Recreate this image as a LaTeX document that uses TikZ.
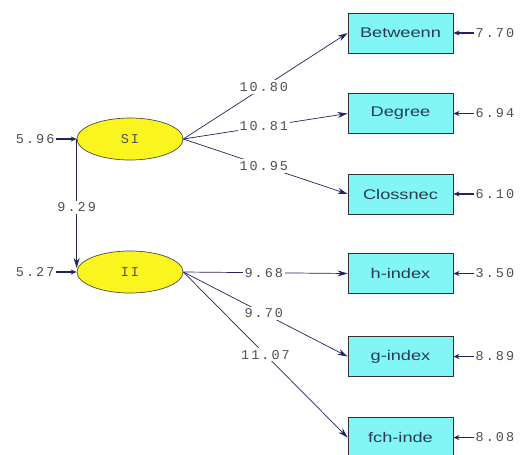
\documentclass[tikz,border=0pt]{standalone}
\usepackage{fontspec}
\setmainfont{Liberation Sans}
\newfontfamily\numfont{Liberation Mono}[LetterSpace=15]
\newfontfamily\boxfont{Liberation Sans}[FakeStretch=1.3]
\usetikzlibrary{arrows.meta,shapes.geometric}
\definecolor{pathcol}{RGB}{35,35,95}
\definecolor{boxfill}{RGB}{130,245,245}
\definecolor{latfill}{RGB}{250,245,30}
\definecolor{numcol}{RGB}{80,80,80}
\definecolor{labcol}{RGB}{40,60,80}

\begin{document}
\begin{tikzpicture}[x=1pt,y=-1pt,
  obs/.style={draw=black!80, fill=boxfill, minimum width=105pt, minimum height=40pt,
    inner sep=0pt, font=\boxfont\fontsize{14}{14}\selectfont, text=labcol, line width=0.9pt},
  lat/.style={ellipse, draw=black!70, fill=latfill, minimum width=106pt, minimum height=42pt,
    inner sep=0pt, font=\numfont\fontsize{13.5}{14}\selectfont, text=numcol, line width=0.7pt},
  num/.style={font=\numfont\fontsize{13.5}{14}\selectfont, text=numcol, inner sep=1pt},
  onl/.style={num, fill=white, inner sep=2pt},
  load/.style={draw=pathcol, line width=0.7pt, -{Stealth[length=10pt,width=6pt]}},
  res/.style={draw=pathcol, line width=1.3pt, -{Stealth[length=6pt,width=5pt]}},
]
\clip (0,0) rectangle (522,455);
\fill[white] (0,0) rectangle (522,455);

% latent variables
\node[lat] (si) at (130,139) {SI};
\node[lat] (ii) at (130,272) {II};

% indicators
\node[obs] (b1) at (400.5,33)    {Betweenn};
\node[obs] (b2) at (400.5,113.5) {Degree};
\node[obs] (b3) at (400.5,194)   {Clossnec};
\node[obs] (b4) at (400.5,273.5) {h-index};
\node[obs] (b5) at (400.5,356.5) {g-index};
\node[obs] (b6) at (400.5,437.5) {fch-inde};

% loadings
\draw[load] (si.east) -- (b1.west) node[onl,pos=0.49] {10.80};
\draw[load] (si.east) -- (b2.west) node[onl,pos=0.49] {10.81};
\draw[load] (si.east) -- (b3.west) node[onl,pos=0.49] {10.95};
\draw[load] (ii.east) -- (b4.west) node[onl,pos=0.49] {9.68};
\draw[load] (ii.east) -- (b5.west) node[onl,pos=0.49] {9.70};
\draw[load] (ii.east) -- (b6.west) node[onl,pos=0.50] {11.07};

% structural path
\draw[load] (si.west) -- ([yshift=4pt]ii.west) node[onl,pos=0.53] {9.29};

% error terms of the indicators
\foreach \b/\v in {b1/7.70, b2/6.94, b3/6.10, b4/3.50, b5/8.89, b6/8.08} {
  \node[num,anchor=west] (e\b) at ([xshift=21pt]\b.east) {\v};
  \draw[res] (e\b.west) -- (\b.east);
}

% error terms of the latent variables
\node[num,anchor=east] (esi) at ([xshift=-21pt]si.west) {5.96};
\draw[res] (esi.east) -- (si.west);
\node[num,anchor=east] (eii) at ([xshift=-21pt]ii.west) {5.27};
\draw[res] (eii.east) -- (ii.west);
\end{tikzpicture}
\end{document}
